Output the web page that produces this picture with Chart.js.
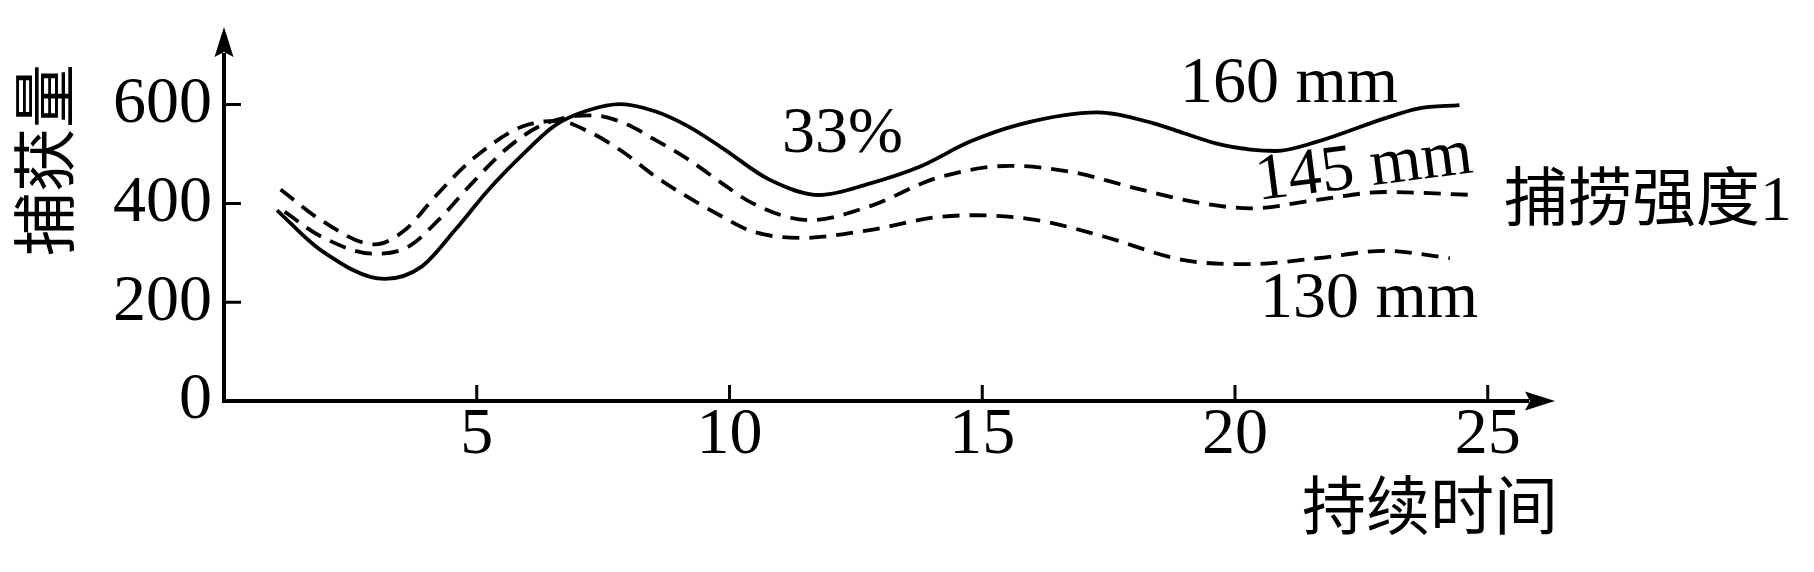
<!DOCTYPE html>
<html><head><meta charset="utf-8">
<script src="https://cdn.jsdelivr.net/npm/chart.js@4.4.0/dist/chart.umd.min.js"></script>
<style>html,body{margin:0;padding:0;background:#fff;}canvas{display:block}</style>
</head><body>
<canvas id="c" width="1814" height="572"></canvas>
<script>
// ---- data ----
const xTicks = [5, 10, 15, 20, 25];
const yTicks = [0, 200, 400, 600];
const xMax = 26.33, yMax = 757;

const x160 = [1.05, 1.92, 3.18, 3.91, 4.57, 5.23, 5.89, 6.55, 7.22, 7.84, 8.54, 9.2, 9.86, 10.79, 11.78, 12.77, 13.76, 14.76, 15.75, 17.27, 18.39, 18.99, 19.6, 20.31, 20.8, 21.63, 22.96, 23.62, 24.44];
const y160 = [386, 305, 247, 272, 346, 427, 497, 558, 589, 601, 586, 555, 512, 448, 417, 440, 474, 525, 560, 584, 562, 542, 522, 509, 506, 525, 572, 592, 599];

const x145 = [1.2, 1.92, 2.98, 3.64, 4.24, 4.9, 5.56, 6.22, 6.89, 7.28, 7.88, 8.54, 9.2, 9.86, 10.46, 11.58, 12.77, 14.09, 15.55, 16.74, 18.06, 19.25, 20.31, 21.63, 22.96, 24.74];
const y145 = [383, 333, 298, 312, 366, 440, 508, 555, 576, 578, 564, 528, 488, 440, 400, 366, 394, 451, 476, 464, 430, 402, 390, 407, 423, 417];

const x130 = [1.12, 1.92, 2.98, 3.58, 4.17, 4.9, 5.89, 6.6, 7.22, 7.88, 8.54, 9.86, 10.46, 11.43, 12.77, 14.09, 14.89, 16.08, 17.4, 18.99, 20.31, 21.63, 22.96, 24.25];
const y130 = [428, 366, 317, 346, 413, 488, 555, 567, 545, 505, 454, 373, 343, 330, 346, 372, 376, 366, 333, 285, 277, 289, 304, 289];

const seriesNames = ['160 mm', '145 mm', '130 mm'];
const yTitle = '捕获量';
const xTitle = '持续时间';
const groupLabel = '捕捞强度1';
const pctLabel = '33%';

const pts = (xs, ys) => xs.map((x, i) => ({x, y: ys[i]}));
const SERIF = "'Liberation Serif', 'Times New Roman', serif";
const CJK = "'Liberation Serif', 'Noto Sans CJK SC', serif";

const decor = {
  id: 'decor',
  afterDraw(chart) {
    const ctx = chart.ctx;
    const xs = chart.scales.x, ys = chart.scales.y;
    const L = xs.left, B = ys.bottom, T = ys.top, R = xs.right;
    ctx.save();
    ctx.strokeStyle = '#000'; ctx.fillStyle = '#000';
    // axes
    ctx.lineWidth = 4;
    ctx.beginPath();
    ctx.moveTo(L, B + 2); ctx.lineTo(L, T + 26);
    ctx.moveTo(L - 2, B); ctx.lineTo(R - 26, B);
    ctx.stroke();
    // arrow heads
    ctx.beginPath();
    ctx.moveTo(L, T); ctx.lineTo(L - 9.5, T + 30); ctx.lineTo(L, T + 25); ctx.lineTo(L + 9.5, T + 30); ctx.closePath();
    ctx.fill();
    ctx.beginPath();
    ctx.moveTo(R, B); ctx.lineTo(R - 30, B - 9.5); ctx.lineTo(R - 25, B); ctx.lineTo(R - 30, B + 9.5); ctx.closePath();
    ctx.fill();
    // inward ticks
    ctx.lineWidth = 3;
    ctx.beginPath();
    yTicks.forEach(v => { if (v === 0) return; const p = ys.getPixelForValue(v); ctx.moveTo(L, p); ctx.lineTo(L + 17, p); });
    xTicks.forEach(v => { const p = xs.getPixelForValue(v); ctx.moveTo(p, B); ctx.lineTo(p, B - 16); });
    ctx.stroke();
    // texts
    ctx.textBaseline = 'alphabetic'; ctx.textAlign = 'left';
    ctx.font = '66px ' + SERIF;
    ctx.fillText(seriesNames[0], 1180, 102);
    ctx.fillText(seriesNames[2], 1260, 317);
    ctx.fillText(pctLabel, 782, 152);
    ctx.save();
    ctx.translate(1258, 200); ctx.rotate(-0.127);
    ctx.fillText(seriesNames[1], 0, 0);
    ctx.restore();
    ctx.font = '64px ' + CJK;
    ctx.textBaseline = 'middle';
    ctx.fillText(groupLabel, 1504, 203);
    ctx.fillText(xTitle, 1302, 512);
    ctx.save();
    ctx.translate(51, 160); ctx.rotate(-Math.PI / 2);
    ctx.textAlign = 'center';
    ctx.fillText(yTitle, 0, 0);
    ctx.restore();
    ctx.restore();
  }
};

const lineStyle = {borderColor: '#000', borderWidth: 3.8, pointRadius: 0, cubicInterpolationMode: 'monotone', fill: false};

new Chart(document.getElementById('c'), {
  type: 'line',
  data: {
    datasets: [
      Object.assign({label: seriesNames[0], data: pts(x160, y160)}, lineStyle),
      Object.assign({label: seriesNames[1], data: pts(x145, y145), borderDash: [17, 10]}, lineStyle),
      Object.assign({label: seriesNames[2], data: pts(x130, y130), borderDash: [17, 10]}, lineStyle)
    ]
  },
  options: {
    responsive: false, animation: false, devicePixelRatio: 1,
    layout: {padding: {top: 27, right: 259, left: 0, bottom: 0}},
    plugins: {legend: {display: false}, tooltip: {enabled: false}},
    scales: {
      x: {
        type: 'linear', min: 0, max: xMax,
        border: {display: false},
        grid: {display: false, drawTicks: false},
        afterBuildTicks: s => { s.ticks = xTicks.map(v => ({value: v})); },
        afterFit: s => { s.height = 171; s.paddingLeft = 0; s.paddingRight = 0; },
        ticks: {autoSkip: false, maxRotation: 0, color: '#000', padding: 2,
          font: {family: SERIF, size: 66, lineHeight: 1}}
      },
      y: {
        type: 'linear', min: 0, max: yMax,
        border: {display: false},
        grid: {display: false, drawTicks: false},
        afterBuildTicks: s => { s.ticks = yTicks.map(v => ({value: v})); },
        afterFit: s => { s.width = 224; s.paddingTop = 0; s.paddingBottom = 0; },
        ticks: {color: '#000', padding: 12, font: {family: SERIF, size: 66, lineHeight: 1}}
      }
    }
  },
  plugins: [decor]
});
</script>
</body></html>
